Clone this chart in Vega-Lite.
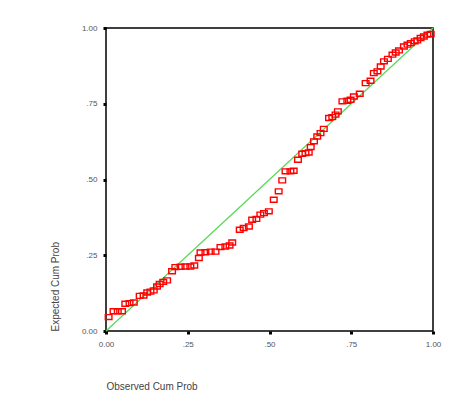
{
  "$schema": "https://vega.github.io/schema/vega-lite/v6.json",
  "width": 327,
  "height": 303,
  "autosize": {"type": "none"},
  "padding": {"left": 106, "top": 28, "right": 35, "bottom": 86},
  "background": "white",
  "config": {
    "view": {"stroke": "#000000", "strokeWidth": 1.5},
    "font": "Liberation Sans",
    "axis": {
      "domain": false,
      "grid": false,
      "tickColor": "#000000",
      "tickSize": 3,
      "tickWidth": 3,
      "labelFont": "Liberation Sans",
      "labelFontSize": 8,
      "labelColor": "#555555",
      "titleFont": "Liberation Sans",
      "titleFontSize": 10,
      "titleFontWeight": "normal",
      "titleColor": "#444444"
    }
  },
  "layer": [
    {
      "data": {"values": [{"x": 0, "y": 0, "x2": 1, "y2": 1}]},
      "mark": {"type": "rule", "color": "#55d955", "strokeWidth": 1.2},
      "encoding": {
        "x": {"field": "x", "type": "quantitative", "scale": {"domain": [0, 1]}},
        "y": {"field": "y", "type": "quantitative", "scale": {"domain": [0, 1]}},
        "x2": {"field": "x2"},
        "y2": {"field": "y2"}
      }
    },
    {
      "data": {"values": [
        {"obs": 0.008, "exp": 0.046},
        {"obs": 0.023, "exp": 0.065},
        {"obs": 0.036, "exp": 0.065},
        {"obs": 0.049, "exp": 0.065},
        {"obs": 0.059, "exp": 0.090},
        {"obs": 0.072, "exp": 0.092},
        {"obs": 0.085, "exp": 0.094},
        {"obs": 0.103, "exp": 0.116},
        {"obs": 0.115, "exp": 0.117},
        {"obs": 0.126, "exp": 0.127},
        {"obs": 0.136, "exp": 0.130},
        {"obs": 0.146, "exp": 0.134},
        {"obs": 0.156, "exp": 0.147},
        {"obs": 0.164, "exp": 0.155},
        {"obs": 0.175, "exp": 0.162},
        {"obs": 0.187, "exp": 0.167},
        {"obs": 0.202, "exp": 0.197},
        {"obs": 0.212, "exp": 0.211},
        {"obs": 0.228, "exp": 0.212},
        {"obs": 0.243, "exp": 0.213},
        {"obs": 0.258, "exp": 0.213},
        {"obs": 0.270, "exp": 0.216},
        {"obs": 0.284, "exp": 0.241},
        {"obs": 0.289, "exp": 0.259},
        {"obs": 0.304, "exp": 0.260},
        {"obs": 0.320, "exp": 0.262},
        {"obs": 0.335, "exp": 0.262},
        {"obs": 0.350, "exp": 0.277},
        {"obs": 0.365, "exp": 0.279},
        {"obs": 0.378, "exp": 0.282},
        {"obs": 0.386, "exp": 0.292},
        {"obs": 0.409, "exp": 0.334},
        {"obs": 0.421, "exp": 0.340},
        {"obs": 0.437, "exp": 0.345},
        {"obs": 0.447, "exp": 0.367},
        {"obs": 0.460, "exp": 0.370},
        {"obs": 0.472, "exp": 0.384},
        {"obs": 0.483, "exp": 0.389},
        {"obs": 0.498, "exp": 0.395},
        {"obs": 0.513, "exp": 0.433},
        {"obs": 0.528, "exp": 0.461},
        {"obs": 0.539, "exp": 0.497},
        {"obs": 0.549, "exp": 0.527},
        {"obs": 0.564, "exp": 0.527},
        {"obs": 0.574, "exp": 0.529},
        {"obs": 0.587, "exp": 0.565},
        {"obs": 0.600, "exp": 0.585},
        {"obs": 0.610, "exp": 0.587},
        {"obs": 0.620, "exp": 0.589},
        {"obs": 0.626, "exp": 0.607},
        {"obs": 0.636, "exp": 0.626},
        {"obs": 0.646, "exp": 0.642},
        {"obs": 0.656, "exp": 0.653},
        {"obs": 0.666, "exp": 0.667},
        {"obs": 0.682, "exp": 0.703},
        {"obs": 0.692, "exp": 0.706},
        {"obs": 0.702, "exp": 0.714},
        {"obs": 0.709, "exp": 0.725},
        {"obs": 0.723, "exp": 0.758},
        {"obs": 0.738, "exp": 0.760},
        {"obs": 0.748, "exp": 0.763},
        {"obs": 0.758, "exp": 0.774},
        {"obs": 0.776, "exp": 0.783},
        {"obs": 0.794, "exp": 0.818},
        {"obs": 0.809, "exp": 0.826},
        {"obs": 0.819, "exp": 0.851},
        {"obs": 0.830, "exp": 0.857},
        {"obs": 0.840, "exp": 0.873},
        {"obs": 0.850, "exp": 0.890},
        {"obs": 0.862, "exp": 0.898},
        {"obs": 0.876, "exp": 0.912},
        {"obs": 0.886, "exp": 0.919},
        {"obs": 0.896, "exp": 0.926},
        {"obs": 0.911, "exp": 0.939},
        {"obs": 0.922, "exp": 0.945},
        {"obs": 0.932, "exp": 0.950},
        {"obs": 0.944, "exp": 0.956},
        {"obs": 0.952, "exp": 0.959},
        {"obs": 0.962, "exp": 0.967},
        {"obs": 0.972, "exp": 0.972},
        {"obs": 0.983, "exp": 0.978},
        {"obs": 0.993, "exp": 0.980}
      ]},
      "mark": {
        "type": "point",
        "shape": "M-1,-0.75H1V0.75H-1Z",
        "size": 44,
        "filled": false,
        "color": "#ff0000",
        "strokeWidth": 1.4,
        "opacity": 1
      },
      "encoding": {
        "x": {
          "field": "obs",
          "type": "quantitative",
          "scale": {"domain": [0, 1], "nice": false},
          "axis": {
            "values": [0, 0.25, 0.5, 0.75, 1],
            "labelExpr": "datum.value == 0 ? '0.00' : datum.value == 1 ? '1.00' : substring(format(datum.value, '.2f'), 1)",
            "labelFlush": false,
            "labelPadding": 6,
            "title": "Observed Cum Prob",
            "titleX": 0,
            "titleY": 55,
            "titleAlign": "left",
            "titleBaseline": "middle"
          }
        },
        "y": {
          "field": "exp",
          "type": "quantitative",
          "scale": {"domain": [0, 1], "nice": false},
          "axis": {
            "values": [0, 0.25, 0.5, 0.75, 1],
            "labelExpr": "datum.value == 0 ? '0.00' : datum.value == 1 ? '1.00' : substring(format(datum.value, '.2f'), 1)",
            "labelFlush": false,
            "labelPadding": 6,
            "title": "Expected Cum Prob",
            "titleAngle": -90,
            "titleX": -51,
            "titleY": 303,
            "titleAlign": "left",
            "titleBaseline": "middle"
          }
        }
      }
    }
  ]
}
